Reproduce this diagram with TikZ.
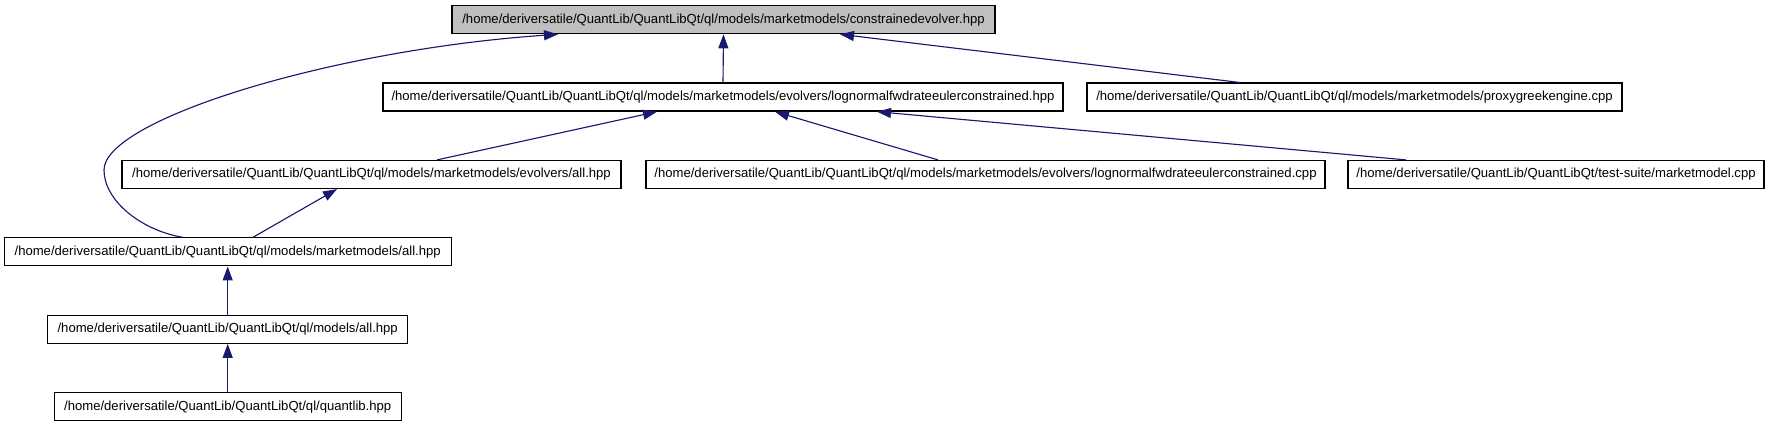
\documentclass[tikz,border=0pt]{standalone}
\usepackage{fontspec}
\setmainfont{Liberation Sans}
\usetikzlibrary{arrows.meta}
\definecolor{edgeblue}{RGB}{25,25,112}
\definecolor{topgray}{RGB}{191,191,191}
\begin{document}
\begin{tikzpicture}[x=0.75pt,y=-0.75pt,
  filebox/.style={draw=black,line width=0.9pt,fill=white,minimum height=21pt,inner sep=0pt,
    font=\fontsize{9.83pt}{11pt}\selectfont},
  rootbox/.style={filebox,fill=topgray},
  dep/.style={draw=edgeblue,line width=0.85pt,
    -{Triangle[length=10.5pt,width=7.5pt,fill=edgeblue]}}]
\useasboundingbox (0,0) rectangle (1773,427);

\node[rootbox,minimum width=407.25pt] (top) at (723.5,19.7)
  {/home/deriversatile/QuantLib/QuantLibQt/ql/models/marketmodels/constrainedevolver.hpp};
\node[filebox,minimum width=510pt] (hpp) at (723,97.1)
  {/home/deriversatile/QuantLib/QuantLibQt/ql/models/marketmodels/evolvers/lognormalfwdrateeulerconstrained.hpp};
\node[filebox,minimum width=401.25pt] (proxy) at (1354.5,97.1)
  {/home/deriversatile/QuantLib/QuantLibQt/ql/models/marketmodels/proxygreekengine.cpp};
\node[filebox,minimum width=374.25pt] (evall) at (371.5,174.5)
  {/home/deriversatile/QuantLib/QuantLibQt/ql/models/marketmodels/evolvers/all.hpp};
\node[filebox,minimum width=509.25pt] (cpp) at (985.5,174.5)
  {/home/deriversatile/QuantLib/QuantLibQt/ql/models/marketmodels/evolvers/lognormalfwdrateeulerconstrained.cpp};
\node[filebox,minimum width=312pt] (mmcpp) at (1556,174.5)
  {/home/deriversatile/QuantLib/QuantLibQt/test-suite/marketmodel.cpp};
\node[filebox,minimum width=335.25pt] (mmall) at (227.7,251.9)
  {/home/deriversatile/QuantLib/QuantLibQt/ql/models/marketmodels/all.hpp};
\node[filebox,minimum width=270pt] (modall) at (227.7,329.3)
  {/home/deriversatile/QuantLib/QuantLibQt/ql/models/all.hpp};
\node[filebox,minimum width=260.25pt] (qlib) at (227.7,406.7)
  {/home/deriversatile/QuantLib/QuantLibQt/ql/quantlib.hpp};

\draw[dep] ([xshift=-45*0.75pt]mmall.north) .. controls (140,230) and (104,200) .. (104,170)
  .. controls (104,120) and (330,50) .. ([xshift=-165.5*0.75pt]top.south);
\draw[dep] (hpp.north) -- (top.south);
\draw[dep] ([xshift=-114.5*0.75pt]proxy.north) -- ([xshift=116.5*0.75pt]top.south);
\draw[dep] ([xshift=65.5*0.75pt]evall.north) -- ([xshift=-66*0.75pt]hpp.south);
\draw[dep] ([xshift=-47.5*0.75pt]cpp.north) -- ([xshift=52*0.75pt]hpp.south);
\draw[dep] ([xshift=-150*0.75pt]mmcpp.north) -- ([xshift=154*0.75pt]hpp.south);
\draw[dep] ([xshift=25.3*0.75pt]mmall.north) -- ([xshift=-34.5*0.75pt]evall.south);
\draw[dep] (modall.north) -- (mmall.south);
\draw[dep] (qlib.north) -- (modall.south);
\end{tikzpicture}
\end{document}
